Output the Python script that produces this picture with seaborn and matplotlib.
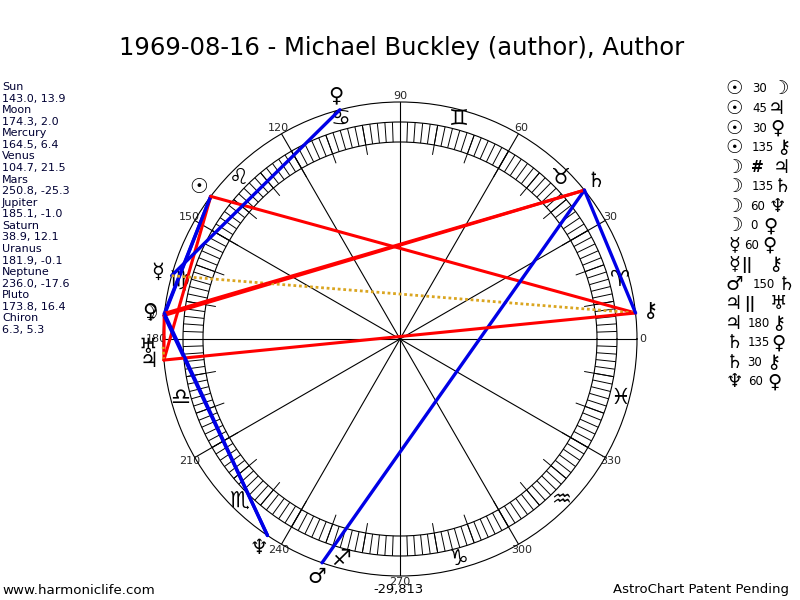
import numpy as np
import matplotlib
matplotlib.use("Agg")
import matplotlib.pyplot as plt
import seaborn as sns

# planets: name, glyph, longitude, latitude
names = ["Sun", "Moon", "Mercury", "Venus", "Mars", "Jupiter", "Saturn", "Uranus", "Neptune", "Pluto", "Chiron"]
glyphs = ["☉", "☽", "☿", "♀", "♂", "♃", "♄", "♅", "♆", "♀", "⚷"]
longitudes = [143.0, 174.3, 164.5, 104.7, 250.8, 185.1, 38.9, 181.9, 236.0, 173.8, 6.3]
latitudes = [13.9, 2.0, 6.4, 21.5, -25.3, -1.0, 12.1, -0.1, -17.6, 16.4, 5.3]

# aspects: index into planets, label
aspect_a = [0, 0, 0, 0, 1, 1, 1, 1, 2, 2, 4, 5, 5, 6, 6, 8]
aspect_b = [1, 5, 9, 10, 5, 6, 8, 9, 3, 10, 6, 7, 10, 9, 10, 9]
aspect_labels = ["30", "45", "30", "135", "#", "135", "60", "0", "60", "||", "150", "||", "180", "135", "30", "60"]

zodiac = ["♈", "♉", "♊", "♋", "♌", "♍", "♎", "♏", "♐", "♑", "♒", "♓"]
degree_ticks = list(range(0, 360, 30))
footer = ["www.harmoniclife.com", "-29,813", "AstroChart Patent Pending"]
title = "1969-08-16 - Michael Buckley (author), Author"

RED = "#ff0000"
BLUE = "#0000e6"
GOLD = "#daa520"


def aspect_style(label):
    if label == "||":
        return dict(color=GOLD, linewidth=2.0, linestyle=(0, (1, 1)))
    if label in ("30", "60", "150"):
        return dict(color=BLUE, linewidth=2.4)
    return dict(color=RED, linewidth=2.2)


def px_text(x, y, s, **kw):
    return fig.text(x / 800, 1 - y / 600, s, **kw)


sns.set_style("white")
plt.rcParams["font.family"] = ["DejaVu Sans", "Noto Sans"]

fig = plt.figure(figsize=(8, 6), dpi=100)
ax = fig.add_axes([163 / 800, 24 / 600, 474 / 800, 474 / 600], projection="polar")
ax.set_facecolor("white")
ax.set_ylim(0, 237)
ax.set_thetagrids(degree_ticks, labels=[str(d) for d in degree_ticks], fontsize=8)
ax.set_rgrids([197, 217], labels=["", ""])
ax.tick_params(axis="x", pad=-6)
ax.grid(True, color="black", linewidth=0.8)
ax.spines["polar"].set_color("black")
ax.spines["polar"].set_linewidth(0.8)

# degree band
ax.vlines(np.radians(np.arange(0, 360, 2)), 197, 217, color="black", linewidth=0.7)
ax.vlines(np.radians(np.arange(0, 360, 10)), 187, 217, color="black", linewidth=0.7)

for i, sign in enumerate(zodiac):
    ax.text(np.radians(15 + 30 * i), 228, sign, fontsize=16, ha="center", va="center", color="black")

for a, b, lab in zip(aspect_a, aspect_b, aspect_labels):
    sns.lineplot(x=np.radians([longitudes[a], longitudes[b]]), y=[237, 237], ax=ax, sort=False,
                 estimator=None, legend=False, clip_on=False, zorder=4, **aspect_style(lab))
ax.set_xlabel("")
ax.set_ylabel("")
ax.set_ylim(0, 237)

for g, lon in zip(glyphs, longitudes):
    ax.text(np.radians(lon), 252, g, fontsize=15, fontweight="bold", ha="center", va="center", color="black", zorder=5)

px_text(402, 48, title, fontsize=17.5, ha="center", va="center", color="black")

# left list
y = 87
for name, lon, lat in zip(names, longitudes, latitudes):
    px_text(2, y, name, fontsize=8, ha="left", va="center", color="#000033")
    px_text(2, y + 11.57, f"{lon}, {lat}", fontsize=8, ha="left", va="center", color="#000033")
    y += 2 * 11.57

# right list
label_x = [752, 752, 752, 752, 757, 752, 750, 750, 744, 747, 753, 750, 748, 748, 747, 748]
second_x = [780, 777, 777, 783, 782, 783, 777, 770, 769, 775, 786, 778, 778, 778, 773, 774]
for i, (a, b, lab) in enumerate(zip(aspect_a, aspect_b, aspect_labels)):
    row_y = 89 + 19.53 * i
    px_text(734, row_y, glyphs[a], fontsize=14, fontweight="bold", ha="center", va="center", color="black")
    if lab in ("#", "||"):
        px_text(label_x[i], row_y, lab, fontsize=11, fontweight="bold", ha="center", va="center", color="black")
    else:
        px_text(label_x[i], row_y, lab, fontsize=8.5, ha="left", va="center", color="black")
    px_text(second_x[i], row_y, glyphs[b], fontsize=14, fontweight="bold", ha="center", va="center", color="black")

px_text(2, 590, footer[0], fontsize=9.6, ha="left", va="center", color="black")
px_text(398, 590, footer[1], fontsize=9.4, ha="center", va="center", color="black")
px_text(789, 590, footer[2], fontsize=9.5, ha="right", va="center", color="black")

fig.savefig("out.png", dpi=100)
